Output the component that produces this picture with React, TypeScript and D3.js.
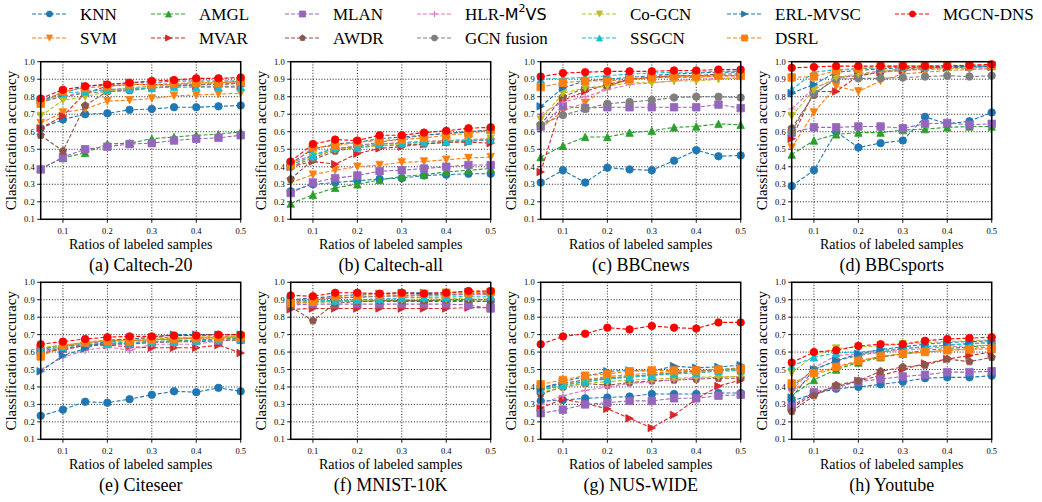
import React from "react";
import * as d3 from "d3";

// x values shared by every panel
const ratios = [0.05, 0.1, 0.15, 0.2, 0.25, 0.3, 0.35, 0.4, 0.45, 0.5];
const xTicks = [0.1, 0.2, 0.3, 0.4, 0.5];
const yTicks = [0.1, 0.2, 0.3, 0.4, 0.5, 0.6, 0.7, 0.8, 0.9, 1.0];

const methods = ["KNN", "SVM", "AMGL", "MVAR", "MLAN", "AWDR", "HLR-M2VS", "GCN fusion", "Co-GCN", "SSGCN", "ERL-MVSC", "DSRL", "MGCN-DNS"];
const colors = ["#1f77b4", "#ff7f0e", "#2ca02c", "#d62728", "#9467bd", "#8c564b", "#e377c2", "#7f7f7f", "#bcbd22", "#17becf", "#1f77b4", "#ff7f0e", "#ff0000"];
const markers = ["o", "v", "^", ">", "s", "p", "+", "o", "v", "^", ">", "s", "o"];

// rows follow the methods order
const caltech20 = [
  [0.62, 0.67, 0.70, 0.705, 0.725, 0.73, 0.74, 0.74, 0.745, 0.75],
  [0.65, 0.71, 0.73, 0.775, 0.78, 0.79, 0.805, 0.81, 0.815, 0.82],
  [0.39, 0.45, 0.48, 0.53, 0.535, 0.56, 0.57, 0.58, 0.585, 0.60],
  [0.62, 0.69, 0.82, 0.86, 0.87, 0.87, 0.87, 0.86, 0.86, 0.86],
  [0.385, 0.455, 0.50, 0.515, 0.53, 0.535, 0.55, 0.56, 0.565, 0.58],
  [0.58, 0.49, 0.75, 0.83, 0.835, 0.85, 0.86, 0.87, 0.87, 0.875],
  [0.78, 0.80, 0.83, 0.84, 0.85, 0.86, 0.87, 0.87, 0.88, 0.88],
  [0.77, 0.80, 0.82, 0.83, 0.84, 0.85, 0.86, 0.87, 0.87, 0.88],
  [0.69, 0.78, 0.80, 0.83, 0.85, 0.86, 0.87, 0.88, 0.88, 0.89],
  [0.77, 0.82, 0.83, 0.84, 0.845, 0.85, 0.855, 0.855, 0.855, 0.855],
  [0.78, 0.82, 0.86, 0.87, 0.88, 0.88, 0.89, 0.89, 0.89, 0.89],
  [0.76, 0.83, 0.85, 0.86, 0.87, 0.87, 0.875, 0.88, 0.88, 0.885],
  [0.79, 0.84, 0.86, 0.87, 0.88, 0.89, 0.895, 0.905, 0.905, 0.91],
];

const caltechAll = [
  [0.26, 0.30, 0.31, 0.32, 0.33, 0.335, 0.35, 0.355, 0.36, 0.36],
  [0.31, 0.355, 0.38, 0.40, 0.41, 0.425, 0.43, 0.44, 0.45, 0.455],
  [0.19, 0.24, 0.28, 0.30, 0.325, 0.345, 0.355, 0.37, 0.38, 0.39],
  [0.40, 0.43, 0.415, 0.475, 0.505, 0.515, 0.53, 0.54, 0.54, 0.535],
  [0.25, 0.31, 0.335, 0.35, 0.375, 0.38, 0.39, 0.40, 0.41, 0.41],
  [0.33, 0.44, 0.49, 0.51, 0.52, 0.525, 0.53, 0.54, 0.545, 0.555],
  [0.42, 0.47, 0.50, 0.52, 0.53, 0.54, 0.545, 0.55, 0.555, 0.56],
  [0.40, 0.45, 0.50, 0.52, 0.54, 0.56, 0.58, 0.59, 0.60, 0.61],
  [0.41, 0.46, 0.50, 0.51, 0.52, 0.53, 0.54, 0.55, 0.555, 0.56],
  [0.41, 0.465, 0.51, 0.51, 0.53, 0.535, 0.54, 0.545, 0.55, 0.555],
  [0.42, 0.50, 0.53, 0.54, 0.56, 0.57, 0.58, 0.59, 0.60, 0.61],
  [0.41, 0.51, 0.52, 0.54, 0.55, 0.555, 0.565, 0.58, 0.59, 0.61],
  [0.43, 0.53, 0.555, 0.55, 0.58, 0.58, 0.595, 0.605, 0.62, 0.625],
];

const bbcNews = [
  [0.31, 0.38, 0.31, 0.395, 0.385, 0.38, 0.435, 0.495, 0.46, 0.465],
  [0.62, 0.72, 0.765, 0.86, 0.90, 0.91, 0.91, 0.91, 0.92, 0.92],
  [0.455, 0.52, 0.57, 0.57, 0.595, 0.605, 0.625, 0.63, 0.645, 0.64],
  [0.37, 0.78, 0.83, 0.87, 0.90, 0.91, 0.92, 0.92, 0.92, 0.92],
  [0.63, 0.745, 0.735, 0.74, 0.74, 0.74, 0.74, 0.74, 0.755, 0.735],
  [0.64, 0.80, 0.85, 0.86, 0.90, 0.91, 0.92, 0.92, 0.93, 0.93],
  [0.70, 0.77, 0.80, 0.84, 0.87, 0.88, 0.89, 0.90, 0.905, 0.905],
  [0.64, 0.695, 0.73, 0.76, 0.77, 0.78, 0.795, 0.80, 0.80, 0.795],
  [0.67, 0.82, 0.85, 0.86, 0.88, 0.88, 0.89, 0.89, 0.90, 0.91],
  [0.90, 0.905, 0.91, 0.92, 0.93, 0.935, 0.94, 0.94, 0.945, 0.945],
  [0.745, 0.85, 0.89, 0.90, 0.91, 0.92, 0.93, 0.935, 0.94, 0.94],
  [0.855, 0.88, 0.89, 0.89, 0.90, 0.91, 0.915, 0.915, 0.92, 0.92],
  [0.915, 0.935, 0.94, 0.945, 0.945, 0.945, 0.95, 0.95, 0.955, 0.955],
];

const bbcSports = [
  [0.29, 0.38, 0.60, 0.51, 0.535, 0.55, 0.685, 0.645, 0.66, 0.71],
  [0.51, 0.71, 0.86, 0.83, 0.89, 0.93, 0.94, 0.95, 0.955, 0.96],
  [0.47, 0.55, 0.585, 0.595, 0.595, 0.61, 0.615, 0.625, 0.63, 0.63],
  [0.56, 0.83, 0.83, 0.92, 0.94, 0.95, 0.96, 0.965, 0.97, 0.97],
  [0.595, 0.625, 0.625, 0.63, 0.63, 0.62, 0.645, 0.65, 0.64, 0.645],
  [0.62, 0.81, 0.91, 0.92, 0.94, 0.96, 0.965, 0.97, 0.97, 0.975],
  [0.73, 0.85, 0.90, 0.93, 0.94, 0.95, 0.955, 0.96, 0.96, 0.96],
  [0.60, 0.82, 0.90, 0.905, 0.905, 0.91, 0.915, 0.92, 0.915, 0.92],
  [0.69, 0.84, 0.91, 0.93, 0.95, 0.955, 0.96, 0.96, 0.965, 0.97],
  [0.84, 0.94, 0.955, 0.96, 0.965, 0.97, 0.97, 0.975, 0.975, 0.975],
  [0.82, 0.87, 0.94, 0.95, 0.96, 0.965, 0.97, 0.97, 0.975, 0.975],
  [0.91, 0.915, 0.95, 0.96, 0.975, 0.975, 0.975, 0.98, 0.98, 0.98],
  [0.965, 0.97, 0.975, 0.975, 0.975, 0.975, 0.975, 0.975, 0.98, 0.985],
];

const citeseer = [
  [0.235, 0.27, 0.315, 0.31, 0.33, 0.355, 0.375, 0.37, 0.395, 0.375],
  [0.58, 0.63, 0.655, 0.67, 0.675, 0.68, 0.685, 0.685, 0.69, 0.69],
  [0.62, 0.635, 0.64, 0.65, 0.655, 0.66, 0.665, 0.67, 0.675, 0.68],
  [0.62, 0.61, 0.64, 0.64, 0.63, 0.625, 0.625, 0.625, 0.64, 0.595],
  [0.60, 0.62, 0.635, 0.645, 0.645, 0.655, 0.66, 0.665, 0.665, 0.67],
  [0.59, 0.62, 0.64, 0.645, 0.65, 0.655, 0.66, 0.66, 0.665, 0.67],
  [0.50, 0.57, 0.61, 0.63, 0.61, 0.645, 0.645, 0.645, 0.665, 0.675],
  [0.62, 0.64, 0.65, 0.66, 0.665, 0.67, 0.675, 0.68, 0.685, 0.685],
  [0.625, 0.64, 0.655, 0.665, 0.67, 0.675, 0.68, 0.685, 0.685, 0.69],
  [0.61, 0.63, 0.645, 0.65, 0.655, 0.66, 0.66, 0.665, 0.67, 0.675],
  [0.49, 0.58, 0.62, 0.665, 0.675, 0.685, 0.70, 0.70, 0.70, 0.70],
  [0.575, 0.64, 0.655, 0.665, 0.665, 0.67, 0.675, 0.68, 0.68, 0.685],
  [0.645, 0.66, 0.675, 0.685, 0.69, 0.69, 0.695, 0.695, 0.70, 0.70],
];

const mnist10k = [
  [0.88, 0.885, 0.89, 0.89, 0.89, 0.89, 0.89, 0.89, 0.89, 0.89],
  [0.90, 0.905, 0.91, 0.915, 0.92, 0.92, 0.925, 0.925, 0.93, 0.93],
  [0.88, 0.89, 0.895, 0.895, 0.895, 0.895, 0.895, 0.895, 0.895, 0.89],
  [0.845, 0.85, 0.85, 0.85, 0.85, 0.85, 0.85, 0.85, 0.855, 0.855],
  [0.87, 0.875, 0.875, 0.875, 0.875, 0.875, 0.875, 0.875, 0.87, 0.85],
  [0.86, 0.78, 0.88, 0.89, 0.895, 0.895, 0.895, 0.90, 0.90, 0.90],
  [0.89, 0.90, 0.91, 0.915, 0.92, 0.92, 0.925, 0.93, 0.93, 0.93],
  [0.89, 0.90, 0.91, 0.915, 0.92, 0.925, 0.93, 0.93, 0.935, 0.935],
  [0.88, 0.885, 0.89, 0.895, 0.90, 0.90, 0.905, 0.905, 0.91, 0.91],
  [0.89, 0.895, 0.895, 0.90, 0.905, 0.91, 0.915, 0.915, 0.92, 0.92],
  [0.90, 0.91, 0.92, 0.93, 0.935, 0.94, 0.94, 0.94, 0.945, 0.945],
  [0.88, 0.89, 0.92, 0.925, 0.93, 0.935, 0.935, 0.94, 0.94, 0.945],
  [0.925, 0.92, 0.94, 0.94, 0.935, 0.94, 0.935, 0.94, 0.95, 0.95],
];

const nusWide = [
  [0.32, 0.325, 0.335, 0.34, 0.345, 0.36, 0.36, 0.36, 0.365, 0.365],
  [0.40, 0.42, 0.44, 0.46, 0.47, 0.48, 0.49, 0.49, 0.495, 0.50],
  [0.38, 0.41, 0.43, 0.45, 0.46, 0.47, 0.48, 0.49, 0.50, 0.51],
  [0.28, 0.33, 0.305, 0.275, 0.22, 0.165, 0.24, 0.33, 0.405, 0.44],
  [0.25, 0.27, 0.30, 0.31, 0.32, 0.32, 0.335, 0.335, 0.35, 0.355],
  [0.36, 0.40, 0.42, 0.41, 0.425, 0.435, 0.44, 0.445, 0.45, 0.45],
  [0.30, 0.35, 0.38, 0.40, 0.42, 0.43, 0.44, 0.45, 0.455, 0.46],
  [0.39, 0.42, 0.44, 0.45, 0.46, 0.47, 0.48, 0.49, 0.495, 0.50],
  [0.37, 0.40, 0.42, 0.43, 0.44, 0.445, 0.45, 0.455, 0.46, 0.46],
  [0.385, 0.41, 0.43, 0.445, 0.455, 0.465, 0.475, 0.48, 0.49, 0.495],
  [0.39, 0.43, 0.46, 0.49, 0.495, 0.49, 0.52, 0.51, 0.515, 0.525],
  [0.415, 0.44, 0.465, 0.475, 0.49, 0.495, 0.495, 0.495, 0.50, 0.505],
  [0.645, 0.69, 0.705, 0.74, 0.73, 0.75, 0.74, 0.735, 0.77, 0.77],
];

const youtube = [
  [0.32, 0.36, 0.39, 0.40, 0.415, 0.43, 0.45, 0.455, 0.455, 0.465],
  [0.37, 0.47, 0.51, 0.545, 0.575, 0.59, 0.60, 0.61, 0.62, 0.63],
  [0.35, 0.44, 0.50, 0.54, 0.57, 0.59, 0.61, 0.62, 0.63, 0.64],
  [0.28, 0.36, 0.40, 0.435, 0.465, 0.50, 0.535, 0.56, 0.58, 0.60],
  [0.29, 0.37, 0.40, 0.43, 0.445, 0.46, 0.47, 0.485, 0.485, 0.49],
  [0.26, 0.35, 0.41, 0.435, 0.49, 0.515, 0.525, 0.56, 0.545, 0.57],
  [0.38, 0.51, 0.58, 0.59, 0.60, 0.61, 0.62, 0.63, 0.635, 0.64],
  [0.40, 0.50, 0.55, 0.58, 0.60, 0.62, 0.63, 0.64, 0.65, 0.655],
  [0.48, 0.58, 0.62, 0.63, 0.635, 0.645, 0.655, 0.66, 0.665, 0.67],
  [0.52, 0.57, 0.595, 0.60, 0.61, 0.62, 0.63, 0.64, 0.645, 0.655],
  [0.34, 0.50, 0.55, 0.59, 0.615, 0.63, 0.645, 0.655, 0.66, 0.665],
  [0.42, 0.48, 0.515, 0.55, 0.575, 0.59, 0.60, 0.61, 0.615, 0.62],
  [0.54, 0.60, 0.61, 0.635, 0.645, 0.645, 0.665, 0.675, 0.68, 0.685],
];

const panelTitles = ["(a) Caltech-20", "(b) Caltech-all", "(c) BBCnews", "(d) BBCsports", "(e) Citeseer", "(f) MNIST-10K", "(g) NUS-WIDE", "(h) Youtube"];
const panelData = [caltech20, caltechAll, bbcNews, bbcSports, citeseer, mnist10k, nusWide, youtube];

const serif = "Liberation Serif, Times New Roman, serif";
const lefts = [40.7, 290.7, 540.7, 791.7];
const rows = [[61.7, 219.3], [282.3, 439.3]];
const plotW = 200;

function markerPath(type: string, s: number) {
  const r = s / 2;
  switch (type) {
    case "v": return `M0,${r}L${-r},${-r}L${r},${-r}Z`;
    case "^": return `M0,${-r}L${-r},${r}L${r},${r}Z`;
    case ">": return `M${r},0L${-r},${-r}L${-r},${r}Z`;
    case "s": return `M${-r},${-r}H${r}V${r}H${-r}Z`;
    case "p": {
      const pts = d3.range(5).map((i) => {
        const a = -Math.PI / 2 + (i * 2 * Math.PI) / 5;
        return [r * 1.05 * Math.cos(a), r * 1.05 * Math.sin(a)];
      });
      return "M" + pts.map((p) => p.join(",")).join("L") + "Z";
    }
    case "+": return `M${-r},0H${r}M0,${-r}V${r}`;
    default: return d3.symbol(d3.symbolCircle, Math.PI * r * r)() as string;
  }
}

function Marker({ type, color, x, y, size }: any) {
  const d = markerPath(type, size);
  if (type === "+") return <path d={d} transform={`translate(${x},${y})`} stroke={color} strokeWidth={1.2} fill="none" />;
  return <path d={d} transform={`translate(${x},${y})`} fill={color} stroke={color} strokeWidth={0.8} />;
}

function Panel({ idx }: { idx: number }) {
  const left = lefts[idx % 4];
  const [top, bottom] = rows[Math.floor(idx / 4)];
  const x = d3.scaleLinear().domain([0.05, 0.5]).range([left, left + plotW]);
  const y = d3.scaleLinear().domain([0.1, 1.0]).range([bottom, top]);
  const line = d3.line<number>().x((_, i) => x(ratios[i])).y((v) => y(v));
  const data = panelData[idx];
  const cx = left + plotW / 2;
  return (
    <g>
      {yTicks.map((t) => (
        <g key={"y" + t}>
          <line x1={left} x2={left + plotW} y1={y(t)} y2={y(t)} stroke="#000" strokeWidth={0.9} strokeDasharray="1,1.8" />
          <line x1={left - 3.5} x2={left} y1={y(t)} y2={y(t)} stroke="#000" strokeWidth={0.9} />
          <text x={left - 6} y={y(t)} dominantBaseline="central" textAnchor="end" fontSize={8.5} fontFamily={serif}>{t.toFixed(1)}</text>
        </g>
      ))}
      {xTicks.map((t) => (
        <g key={"x" + t}>
          <line x1={x(t)} x2={x(t)} y1={top} y2={bottom} stroke="#000" strokeWidth={0.9} strokeDasharray="1,1.8" />
          <line x1={x(t)} x2={x(t)} y1={bottom} y2={bottom + 3.5} stroke="#000" strokeWidth={0.9} />
          <text x={x(t)} y={bottom + 11.5} dominantBaseline="central" textAnchor="middle" fontSize={8.5} fontFamily={serif}>{t.toFixed(1)}</text>
        </g>
      ))}
      <defs>
        <clipPath id={"clip" + idx}>
          <rect x={left - 6} y={top - 6} width={plotW + 12} height={bottom - top + 12} />
        </clipPath>
      </defs>
      <g clipPath={`url(#clip${idx})`}>
        {data.map((vals, m) => (
          <g key={methods[m]}>
            <path d={line(vals) as string} fill="none" stroke={colors[m]} strokeWidth={1.1} strokeDasharray="4,2" />
            {vals.map((v, i) => (
              <Marker key={i} type={markers[m]} color={colors[m]} x={x(ratios[i])} y={y(v)} size={7.5} />
            ))}
          </g>
        ))}
      </g>
      <rect x={left} y={top} width={plotW} height={bottom - top} fill="none" stroke="#000" strokeWidth={1.5} />
      <text transform={`translate(${left - 25},${(top + bottom) / 2}) rotate(-90)`} textAnchor="middle" fontSize={15} fontFamily={serif}>Classification accuracy</text>
      <text x={cx} y={bottom + 25} dominantBaseline="central" textAnchor="middle" fontSize={14} fontFamily={serif}>Ratios of labeled samples</text>
      <text x={cx} y={bottom + 45.7} dominantBaseline="central" textAnchor="middle" fontSize={18} fontFamily={serif}>{panelTitles[idx]}</text>
    </g>
  );
}

const legendTextX = [80, 199, 333, 465, 630, 775, 943];
const legendRowY = [14, 38];

function Legend() {
  return (
    <g>
      {methods.map((name, m) => {
        const col = Math.floor(m / 2);
        const row = m % 2;
        const tx = legendTextX[col];
        const ly = legendRowY[row];
        const x1 = tx - 48;
        const x2 = tx - 13;
        return (
          <g key={name}>
            <line x1={x1} x2={x2} y1={ly} y2={ly} stroke={colors[m]} strokeWidth={1.1} strokeDasharray="4,2" />
            <Marker type={markers[m]} color={colors[m]} x={(x1 + x2) / 2} y={ly} size={6} />
            {name === "HLR-M2VS" ? (
              <text x={tx} y={ly} dominantBaseline="central" fontSize={17} fontFamily={serif}>
                HLR-
                <tspan fontFamily="DejaVu Sans, sans-serif" fontSize={16}>M</tspan>
                <tspan fontFamily="DejaVu Sans, sans-serif" fontSize={11} dy={-6}>2</tspan>
                <tspan fontFamily="DejaVu Sans, sans-serif" fontSize={16} dy={6}>VS</tspan>
              </text>
            ) : (
              <text x={tx} y={ly} dominantBaseline="central" fontSize={17} fontFamily={serif}>{name}</text>
            )}
          </g>
        );
      })}
    </g>
  );
}

export default function App() {
  return (
    <svg width={1042} height={502} style={{ position: "absolute", left: 0, top: 0, background: "#fff" }}>
      <Legend />
      {panelData.map((_, i) => (
        <Panel key={i} idx={i} />
      ))}
    </svg>
  );
}
